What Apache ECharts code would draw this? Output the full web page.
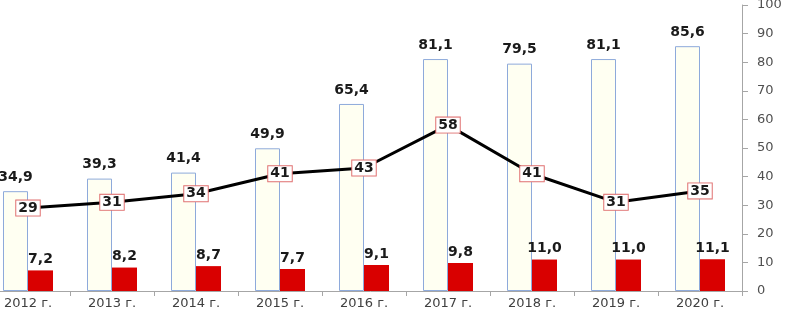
<!DOCTYPE html>
<html>
<head>
<meta charset="utf-8">
<script src="https://cdn.jsdelivr.net/npm/echarts@6/dist/echarts.min.js"></script>
<style>html,body{margin:0;padding:0;background:#fff;}#c{width:786px;height:312px;}</style>
</head>
<body>
<div id="c"></div>
<script>
const categories = ['2012 г.','2013 г.','2014 г.','2015 г.','2016 г.','2017 г.','2018 г.','2019 г.','2020 г.'];
const outlinedValues = [34.9, 39.3, 41.4, 49.9, 65.4, 81.1, 79.5, 81.1, 85.6];
const redValues = [7.2, 8.2, 8.7, 7.7, 9.1, 9.8, 11.0, 11.0, 11.1];
const lineValues = [29, 31, 34, 41, 43, 58, 41, 31, 35];

const fmt = p => p.value.toFixed(1).replace('.', ',');
const font = 'DejaVu Sans';

const chart = echarts.init(document.getElementById('c'));
chart.setOption({
  animation: false,
  backgroundColor: '#ffffff',
  grid: { left: -14, right: 44, top: 5, bottom: 21, containLabel: false, outerBoundsMode: 'none' },
  xAxis: {
    type: 'category',
    data: categories,
    axisLine: { lineStyle: { color: '#a6a6a6', width: 1 } },
    axisTick: { show: true, length: 5, lineStyle: { color: '#a6a6a6' } },
    axisLabel: { color: '#404040', fontSize: 13, fontFamily: font, margin: 6 }
  },
  yAxis: {
    type: 'value',
    position: 'right',
    min: 0, max: 100, interval: 10,
    splitLine: { show: false },
    axisLine: { show: true, lineStyle: { color: '#a6a6a6' } },
    axisTick: { show: true, inside: false, length: 6, lineStyle: { color: '#a6a6a6' } },
    axisLabel: { color: '#505050', fontSize: 13, fontFamily: font, margin: 15 }
  },
  series: [
    {
      type: 'bar',
      data: outlinedValues,
      barWidth: 25,
      barGap: '0%',
      itemStyle: { color: '#fffff2', borderColor: '#8eaadb', borderWidth: 1 },
      label: { show: true, position: 'top', distance: 7, formatter: fmt,
        color: '#1a1a1a', fontWeight: 'bold', fontSize: 14, fontFamily: font }
    },
    {
      type: 'bar',
      data: redValues,
      barWidth: 25,
      barGap: '0%',
      itemStyle: { color: '#d90000' },
      label: { show: true, position: 'top', distance: 4, formatter: fmt,
        color: '#1a1a1a', fontWeight: 'bold', fontSize: 14, fontFamily: font }
    },
    {
      type: 'line',
      data: lineValues,
      symbol: 'circle',
      symbolSize: 1,
      showSymbol: true,
      itemStyle: { color: '#000000' },
      lineStyle: { color: '#000000', width: 3 },
      z: 5,
      label: { show: true, position: 'inside', color: '#1a1a1a', fontWeight: 'bold',
        fontSize: 14, fontFamily: font, backgroundColor: '#ffffff',
        borderColor: '#e07070', borderWidth: 1, padding: [1, 2, 0, 2] }
    }
  ]
});
</script>
</body>
</html>
